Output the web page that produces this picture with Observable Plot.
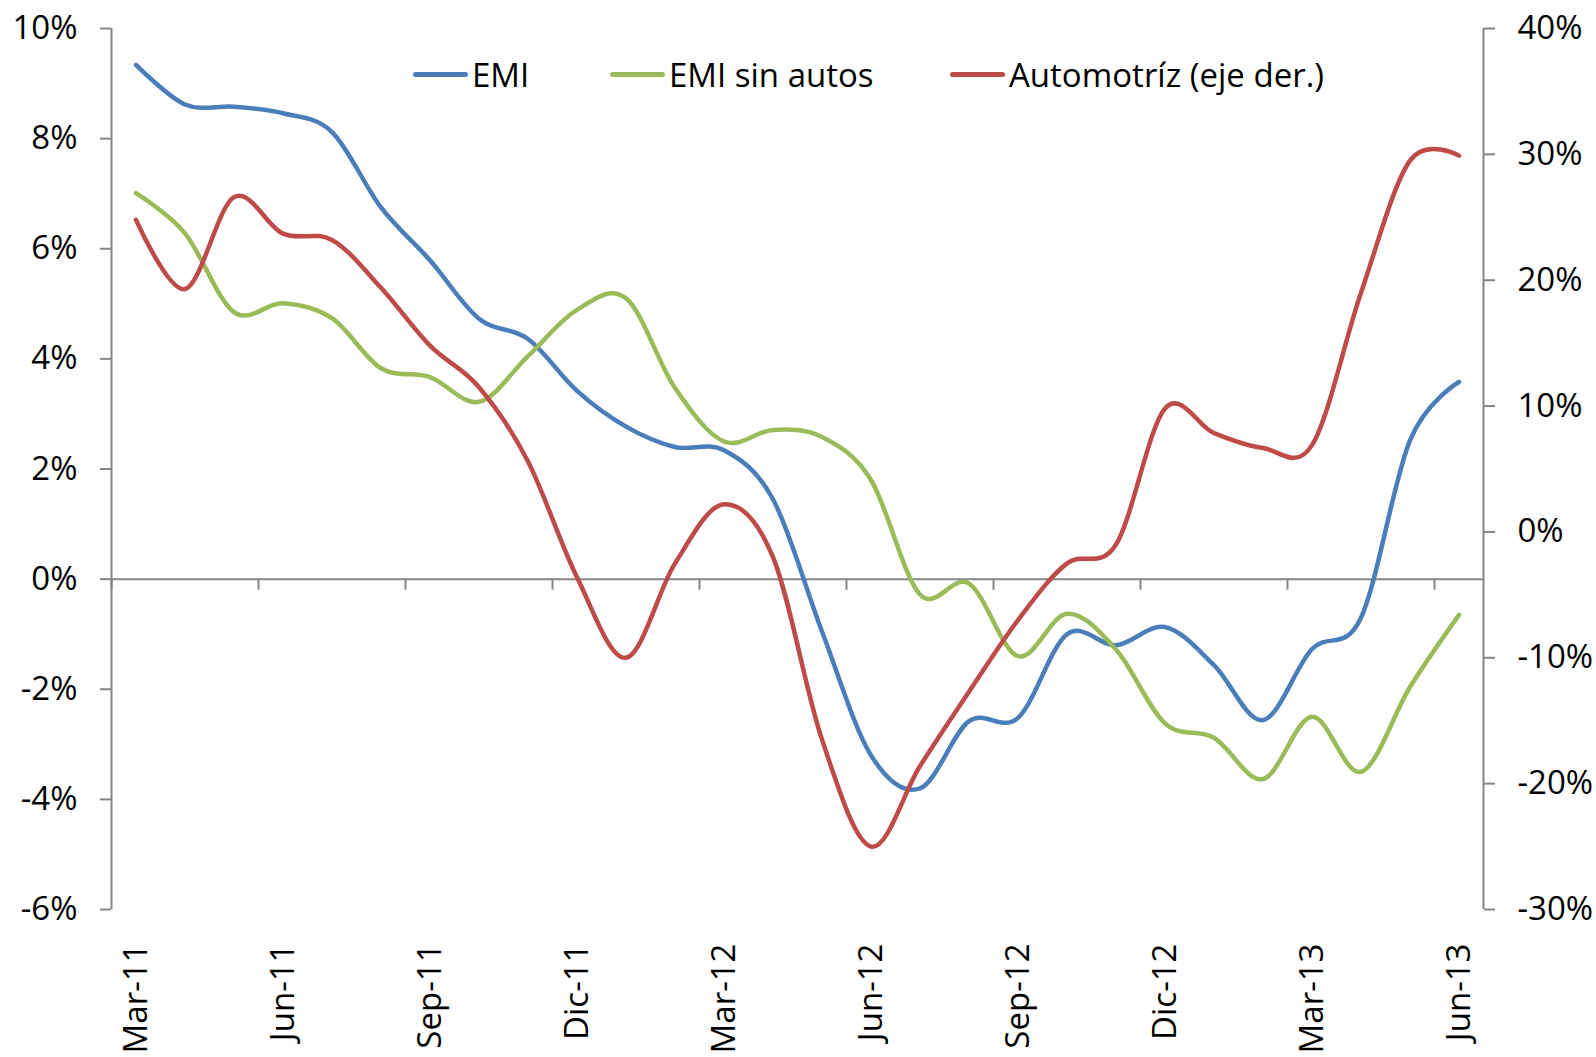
<!DOCTYPE html>
<html><head><meta charset="utf-8">
<script src="https://cdn.jsdelivr.net/npm/d3@7"></script>
<script src="https://cdn.jsdelivr.net/npm/@observablehq/plot@0.6"></script>
<style>
body{margin:0;background:#fff;}
#wrap{position:relative;width:1596px;height:1057px;font-family:"Open Sans",sans-serif;}
.lg{position:absolute;top:58px;height:33px;display:flex;align-items:center;font-size:33px;line-height:1;color:#000;white-space:nowrap;}
.lg .sw{display:inline-block;width:55px;height:5px;border-radius:3px;margin-right:4px;}
</style></head>
<body><div id="wrap"></div>
<script>
const months = ["Mar-11","Abr-11","May-11","Jun-11","Jul-11","Ago-11","Sep-11","Oct-11","Nov-11","Dic-11","Ene-12","Feb-12",
  "Mar-12","Abr-12","May-12","Jun-12","Jul-12","Ago-12","Sep-12","Oct-12","Nov-12","Dic-12","Ene-13","Feb-13",
  "Mar-13","Abr-13","May-13","Jun-13"];
const emi = [9.34,8.62,8.58,8.46,8.12,6.75,5.79,4.73,4.36,3.42,2.77,2.40,2.34,1.45,-0.95,-3.20,-3.80,-2.58,-2.52,-1.00,-1.20,-0.87,-1.56,-2.56,-1.27,-0.70,2.52,3.58];
const emiSinAutos = [7.01,6.28,4.85,5.01,4.74,3.83,3.67,3.22,4.05,4.89,5.10,3.47,2.50,2.71,2.58,1.80,-0.28,-0.08,-1.40,-0.63,-1.28,-2.62,-2.88,-3.63,-2.50,-3.50,-1.96,-0.65];
const automotriz = [24.8,19.3,26.6,23.7,23.2,19.4,14.8,11.5,5.6,-3.6,-10.0,-2.5,2.2,-2.0,-16.5,-25.0,-18.6,-12.7,-7.0,-2.5,-1.0,9.8,7.85,6.67,6.9,19.0,29.5,29.9];
const leftTicks = [-6,-4,-2,0,2,4,6,8,10];
const rightTicks = [-30,-20,-10,0,10,20,30,40];
const seriesNames = ["EMI","EMI sin autos","Automotríz (eje der.)"];
const seriesColors = ["#4A7EBB","#9BBB59","#BE4B48"];
const labelEvery = 3;

// map right-axis values onto the left scale
const L0 = leftTicks[0], L1 = leftTicks[leftTicks.length-1];
const R0 = rightTicks[0], R1 = rightTicks[rightTicks.length-1];
const toLeft = r => L0 + (r - R0) * (L1 - L0) / (R1 - R0);
const fromLeft = l => R0 + (l - L0) * (R1 - R0) / (L1 - L0);

const n = months.length;
const idx = d3.range(n);
const labelIdx = idx.filter(i => i % labelEvery === 0);
const boundaries = labelIdx.map(i => i - 0.5);
const gray = "#868686";

const mk = (vals, color, conv) => Plot.line(idx, {
  x: i => i, y: i => conv ? toLeft(vals[i]) : vals[i],
  stroke: color, strokeWidth: 4.5, curve: "catmull-rom", tension: 0,
  strokeLinecap: "round", strokeLinejoin: "round"
});

const chart = Plot.plot({
  width: 1596, height: 1057,
  marginLeft: 111, marginRight: 113, marginTop: 28, marginBottom: 148,
  style: {fontFamily: "'Open Sans', sans-serif", fontSize: "33px", color: "#000", background: "#fff", overflow: "visible"},
  x: {type: "linear", domain: [-0.5, n - 0.5]},
  y: {domain: [L0, L1]},
  marks: [
    Plot.ruleX([-0.5, n - 0.5], {stroke: gray, strokeWidth: 2}),
    Plot.ruleY([0], {stroke: gray, strokeWidth: 2}),
    Plot.ruleX(boundaries, {y1: 0, y2: -0.2, stroke: gray, strokeWidth: 2}),
    Plot.axisY({ticks: leftTicks, tickSize: 11, tickFormat: () => "", color: gray, strokeWidth: 2, label: null}),
    Plot.axisY({ticks: leftTicks, tickSize: 0, tickPadding: 34, tickFormat: d => d + "%", color: "#000", label: null}),
    Plot.axisY({anchor: "right", ticks: rightTicks.map(toLeft), tickSize: 11, tickFormat: () => "", color: gray, strokeWidth: 2, label: null}),
    Plot.axisY({anchor: "right", ticks: rightTicks.map(toLeft), tickSize: 0, tickPadding: 34, tickFormat: d => Math.round(fromLeft(d)) + "%", color: "#000", label: null}),
    Plot.axisX({anchor: "bottom", ticks: labelIdx, tickSize: 0, tickPadding: 34, tickRotate: -90, tickFormat: i => months[i], color: "#000", label: null}),
    mk(emi, seriesColors[0], false),
    mk(emiSinAutos, seriesColors[1], false),
    mk(automotriz, seriesColors[2], true)
  ]
});
const wrap = document.getElementById("wrap");
wrap.appendChild(chart);

const legendLeft = [413, 610, 950];
seriesNames.forEach((name, k) => {
  const d = document.createElement("div");
  d.className = "lg";
  d.style.left = legendLeft[k] + "px";
  const sw = document.createElement("span");
  sw.className = "sw";
  sw.style.background = seriesColors[k];
  d.appendChild(sw);
  d.appendChild(document.createTextNode(name));
  wrap.appendChild(d);
});
</script></body></html>
